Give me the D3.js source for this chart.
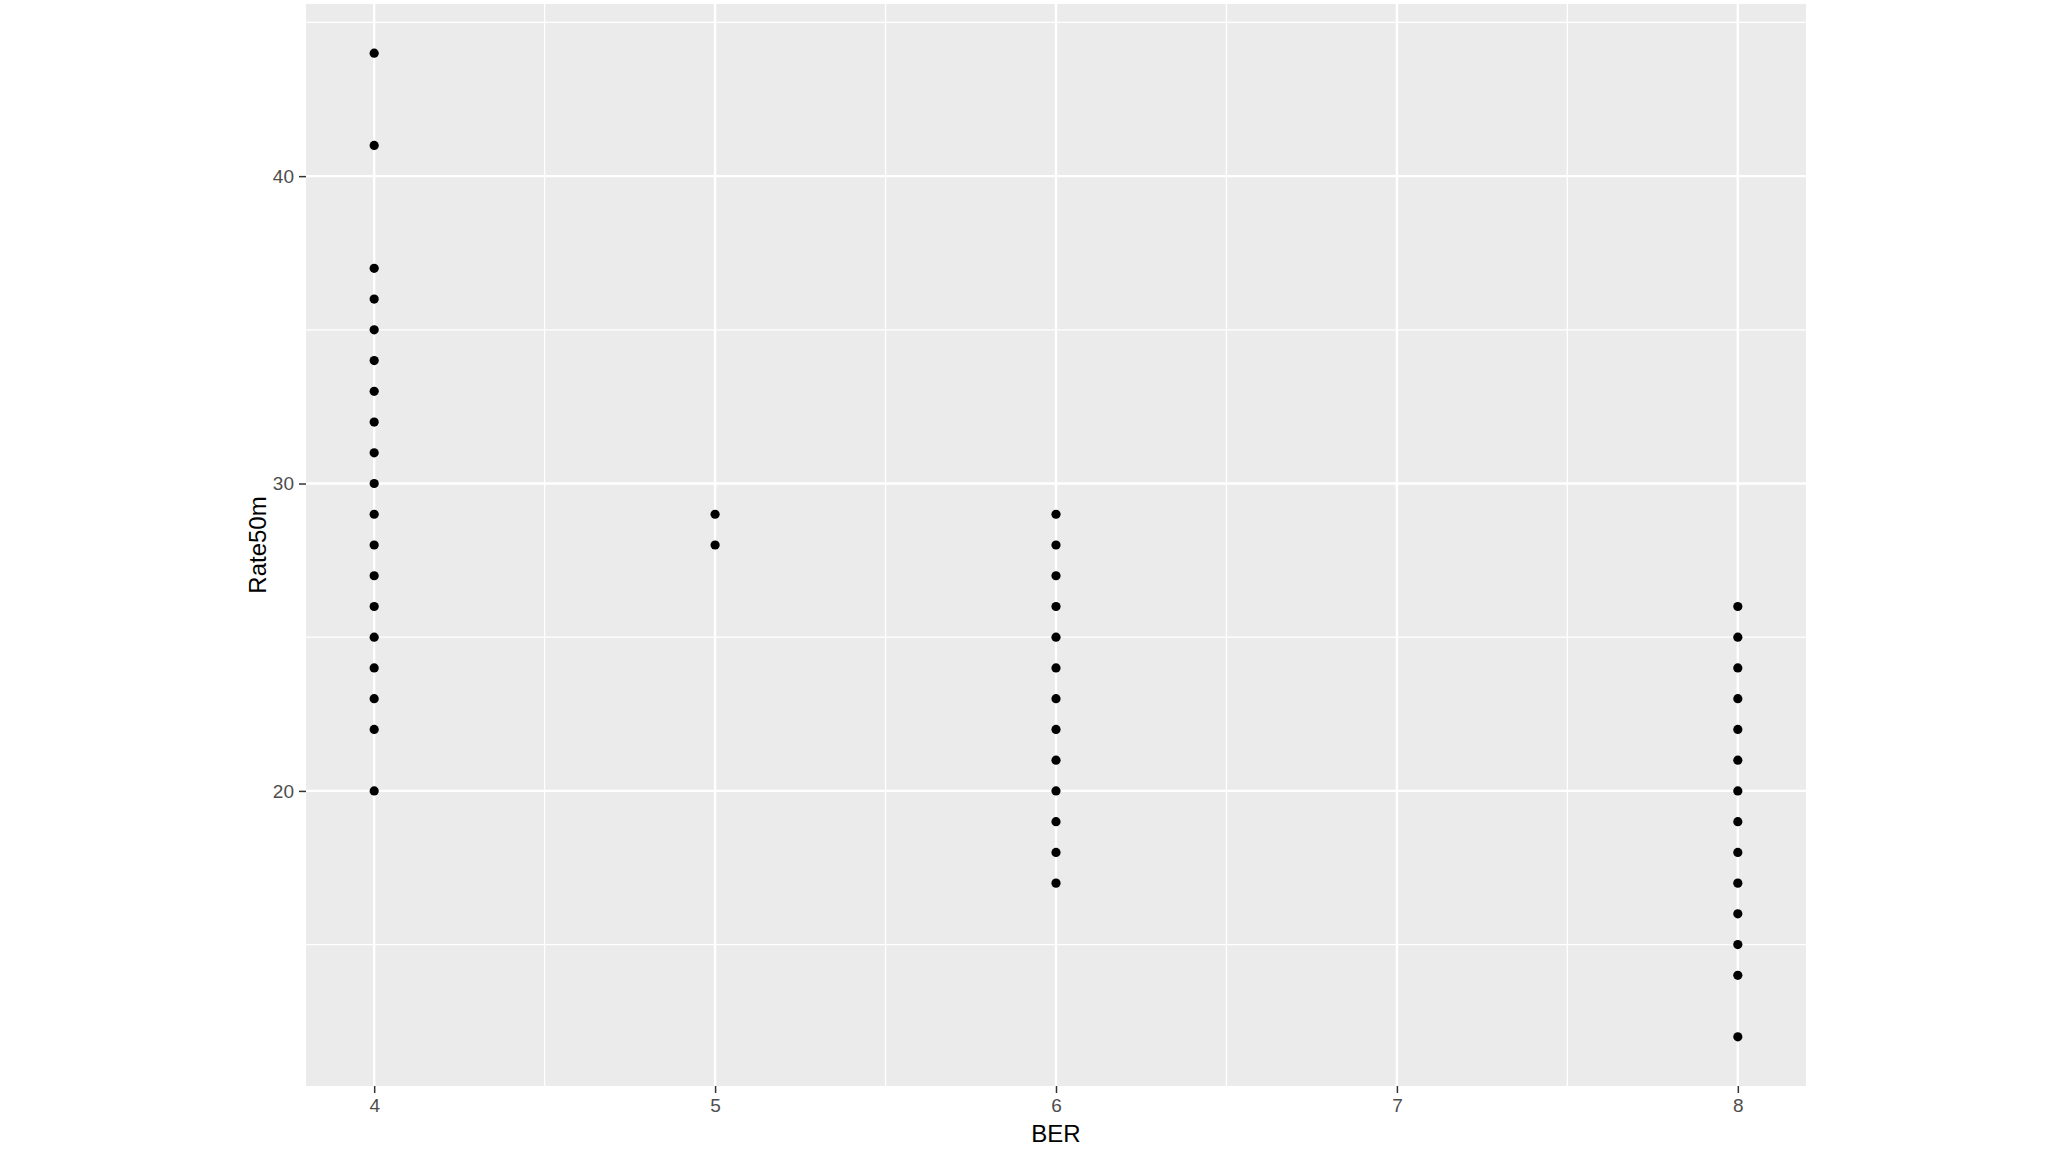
<!DOCTYPE html>
<html>
<head>
<meta charset="utf-8">
<script src="https://cdn.jsdelivr.net/npm/d3@7"></script>
<style>
  body { margin: 0; background: #fff; }
  text { font-family: "Liberation Sans", Arial, sans-serif; }
</style>
</head>
<body>
<div id="chart"></div>
<script>
var w = 2048;
var h = 1152;

// observations, grouped by BER value
var berValues = [4, 5, 6, 8];
var rateAt4 = [44, 41, 37, 36, 35, 34, 33, 32, 31, 30, 29, 28, 27, 26, 25, 24, 23, 22, 20];
var rateAt5 = [29, 28];
var rateAt6 = [29, 28, 27, 26, 25, 24, 23, 22, 21, 20, 19, 18, 17];
var rateAt8 = [26, 25, 24, 23, 22, 21, 20, 19, 18, 17, 16, 15, 14, 12];
var xTicks = [4, 5, 6, 7, 8];
var yTicks = [20, 30, 40];

var rates = [rateAt4, rateAt5, rateAt6, rateAt8];
var points = [];
berValues.forEach(function(b, i) {
  rates[i].forEach(function(r) { points.push({ber: b, rate: r}); });
});

var panel = {left: 306, right: 1806, top: 4, bottom: 1086};

// ggplot-like 5% expansion
var xMin = d3.min(points, function(d) { return d.ber; }),
    xMax = d3.max(points, function(d) { return d.ber; }),
    yMin = d3.min(points, function(d) { return d.rate; }),
    yMax = d3.max(points, function(d) { return d.rate; });
var xPad = (xMax - xMin) * 0.05, yPad = (yMax - yMin) * 0.05;

var x = d3.scaleLinear()
  .domain([xMin - xPad, xMax + xPad])
  .range([panel.left, panel.right]);
var y = d3.scaleLinear()
  .domain([yMin - yPad, yMax + yPad])
  .range([panel.bottom, panel.top]);

var svg = d3.select("#chart").append("svg")
  .attr("width", w)
  .attr("height", h);

svg.append("rect")
  .attr("x", panel.left)
  .attr("y", panel.top)
  .attr("width", panel.right - panel.left)
  .attr("height", panel.bottom - panel.top)
  .style("fill", "#EBEBEB");

// minor grid
var xMinor = d3.range(3.5, 8.6, 1).filter(function(v) { return v > x.domain()[0] && v < x.domain()[1]; });
var yMinor = d3.range(15, 50, 10).filter(function(v) { return v > y.domain()[0] && v < y.domain()[1]; });

var grid = svg.append("g");
grid.selectAll(".vminor")
    .data(xMinor)
  .enter().append("line")
    .attr("x1", function(d) { return x(d); })
    .attr("x2", function(d) { return x(d); })
    .attr("y1", panel.top)
    .attr("y2", panel.bottom)
    .style("stroke", "#fff")
    .style("stroke-width", 1.3);
grid.selectAll(".hminor")
    .data(yMinor)
  .enter().append("line")
    .attr("y1", function(d) { return y(d); })
    .attr("y2", function(d) { return y(d); })
    .attr("x1", panel.left)
    .attr("x2", panel.right)
    .style("stroke", "#fff")
    .style("stroke-width", 1.3);

// major grid
grid.selectAll(".vmajor")
    .data(xTicks)
  .enter().append("line")
    .attr("x1", function(d) { return x(d); })
    .attr("x2", function(d) { return x(d); })
    .attr("y1", panel.top)
    .attr("y2", panel.bottom)
    .style("stroke", "#fff")
    .style("stroke-width", 2.4);
grid.selectAll(".hmajor")
    .data(yTicks)
  .enter().append("line")
    .attr("y1", function(d) { return y(d); })
    .attr("y2", function(d) { return y(d); })
    .attr("x1", panel.left)
    .attr("x2", panel.right)
    .style("stroke", "#fff")
    .style("stroke-width", 2.4);

// axes
var xAxis = svg.append("g")
  .attr("transform", "translate(0," + panel.bottom + ")")
  .call(d3.axisBottom(x).tickValues(xTicks).tickSize(7).tickPadding(6).tickFormat(d3.format("d")));
var yAxis = svg.append("g")
  .attr("transform", "translate(" + panel.left + ",0)")
  .call(d3.axisLeft(y).tickValues(yTicks).tickSize(7).tickPadding(5).tickFormat(d3.format("d")));

[xAxis, yAxis].forEach(function(a) {
  a.select(".domain").remove();
  a.selectAll(".tick line").style("stroke", "#333").style("stroke-width", 1.5);
  a.selectAll(".tick text")
    .style("fill", "#4D4D4D")
    .style("font-size", "19px")
    .style("font-family", "'Liberation Sans', Arial, sans-serif");
});

// points
svg.selectAll(".pt")
    .data(points)
  .enter().append("circle")
    .attr("class", "pt")
    .attr("cx", function(d) { return x(d.ber); })
    .attr("cy", function(d) { return y(d.rate); })
    .attr("r", 4.6)
    .style("fill", "#000");

// axis titles
svg.append("text")
  .attr("x", (panel.left + panel.right) / 2)
  .attr("y", 1142)
  .attr("text-anchor", "middle")
  .style("font-size", "24px")
  .style("fill", "#000")
  .text("BER");

svg.append("text")
  .attr("transform", "translate(266," + (panel.top + panel.bottom) / 2 + ") rotate(-90)")
  .attr("text-anchor", "middle")
  .style("font-size", "24px")
  .style("fill", "#000")
  .text("Rate50m");
</script>
</body>
</html>
